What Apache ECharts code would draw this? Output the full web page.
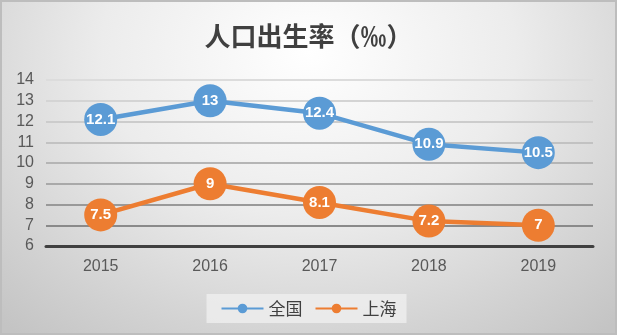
<!DOCTYPE html>
<html>
<head>
<meta charset="utf-8">
<script src="https://cdn.jsdelivr.net/npm/echarts@6/dist/echarts.min.js"></script>
<style>
html,body{margin:0;padding:0;}
#c{width:617px;height:335px;box-sizing:border-box;border:2px solid #bdbdbd;
background:radial-gradient(ellipse 75% 110% at 50% 15%, #ffffff 0%, #ececec 45%, #d2d2d2 80%, #c4c4c4 100%);}
</style>
</head>
<body>
<div id="c"></div>
<script>
var title = '人口出生率（‰）';
var categories = ['2015', '2016', '2017', '2018', '2019'];
var seriesNames = ['全国', '上海'];
var nationalValues = [12.1, 13, 12.4, 10.9, 10.5];
var shanghaiValues = [7.5, 9, 8.1, 7.2, 7];
var yMin = 6, yMax = 14, yInterval = 1;

var chart = echarts.init(document.getElementById('c'), null, {renderer: 'canvas'});
var numFont = '"Liberation Sans", Arial, sans-serif';
var cjkFont = '"Noto Sans CJK SC", sans-serif';
function labelCfg() {
  return {show: true, position: 'inside', color: '#ffffff', fontWeight: 'bold',
    fontSize: 15, fontFamily: numFont};
}
chart.setOption({
  animation: false,
  title: {text: title, left: 'center', top: 16,
    textStyle: {fontFamily: cjkFont, fontSize: 26, fontWeight: 'bold', color: '#404040'}},
  grid: {left: 44, right: 22, top: 78, bottom: 87, containLabel: false},
  legend: {data: seriesNames, bottom: 10, left: 'center', itemWidth: 42, itemHeight: 12, itemGap: 12,
    padding: [6, 10, 6, 14],
    backgroundColor: 'rgba(240,240,240,0.75)',
    textStyle: {fontFamily: cjkFont, fontSize: 17, color: '#404040'}},
  xAxis: {type: 'category', data: categories, boundaryGap: true,
    axisLine: {show: true, lineStyle: {color: '#404040', width: 3}},
    axisTick: {show: false},
    axisLabel: {fontFamily: numFont, fontSize: 16, color: '#595959', margin: 13}},
  yAxis: {type: 'value', min: yMin, max: yMax, interval: yInterval,
    axisLine: {show: false}, axisTick: {show: false},
    axisLabel: {fontFamily: numFont, fontSize: 16, color: '#595959', margin: 12},
    splitLine: {lineStyle: {width: 2,
      color: ['#404040', '#8a8a8a', '#999999', '#a9a9a9', '#b5b5b5', '#c2c2c2', '#cccccc', '#d4d4d4', '#dcdcdc']}}},
  series: [
    {name: seriesNames[0], type: 'line', data: nationalValues, symbol: 'circle', symbolSize: 33,
      itemStyle: {color: '#5B9BD5'}, lineStyle: {width: 4.5, color: '#5B9BD5'}, label: labelCfg()},
    {name: seriesNames[1], type: 'line', data: shanghaiValues, symbol: 'circle', symbolSize: 33,
      itemStyle: {color: '#ED7D31'}, lineStyle: {width: 4.5, color: '#ED7D31'}, label: labelCfg()}
  ]
});
</script>
</body>
</html>
